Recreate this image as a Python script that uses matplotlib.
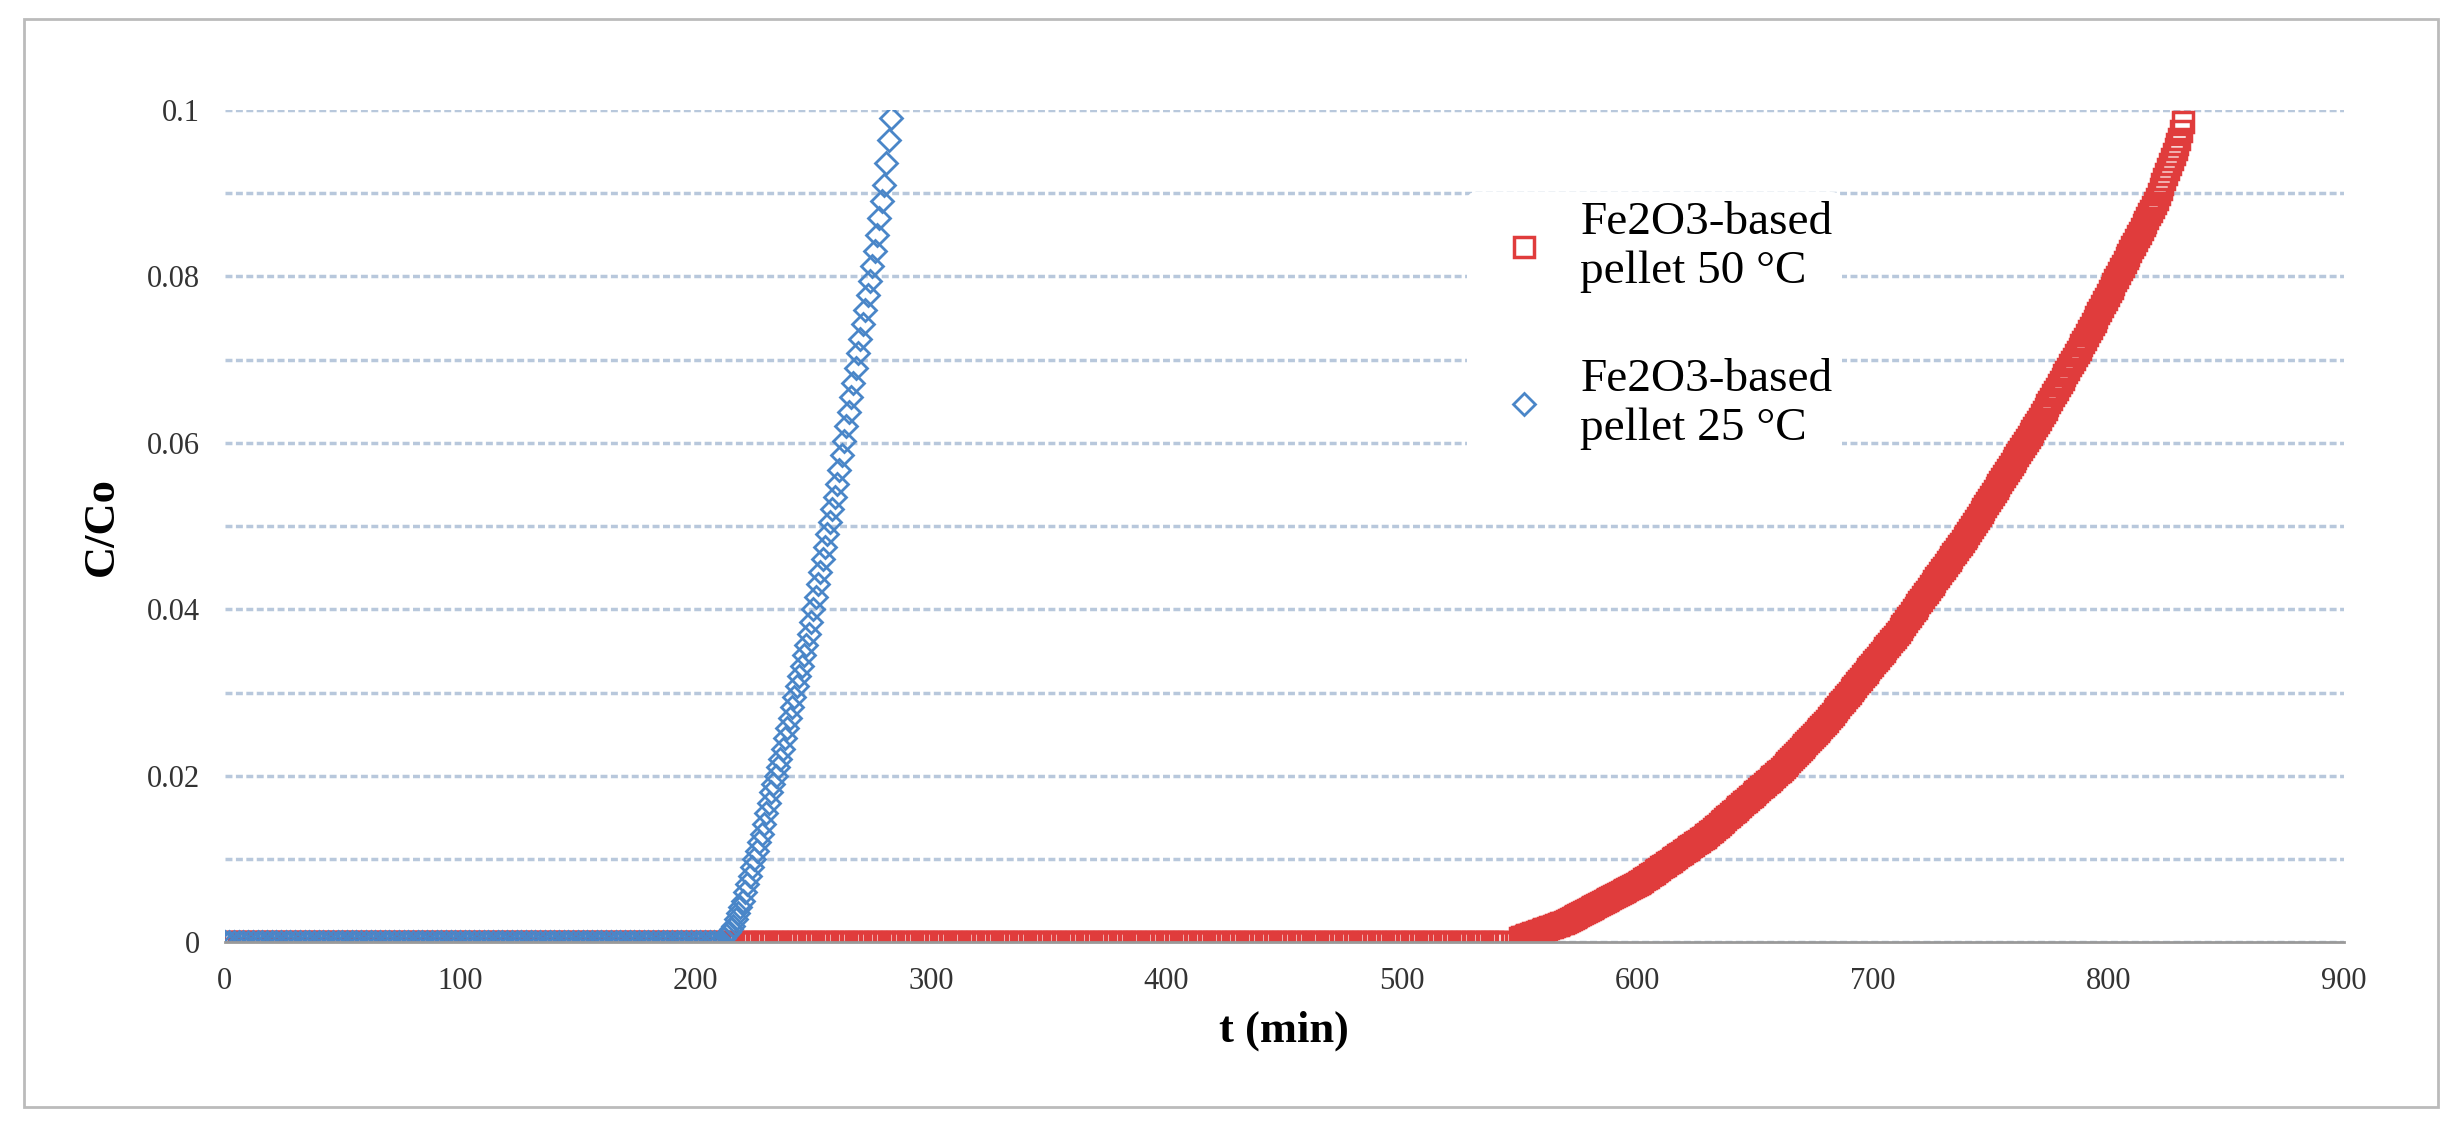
import matplotlib
matplotlib.use("Agg")
import matplotlib.pyplot as plt
import numpy as np

# Fe2O3 pellet 25 °C (blue)
t25_flat = list(range(0, 211, 2))
c25_flat = [0.0] * len(t25_flat)
t25_rise = [212, 216, 220, 224, 228, 232, 236, 240, 244, 248, 252, 256, 260, 264, 268, 272, 276, 280, 283]
c25_rise = [0.0005, 0.002, 0.005, 0.009, 0.013, 0.018, 0.022, 0.027, 0.032, 0.037, 0.043, 0.049, 0.055, 0.062, 0.069, 0.076, 0.083, 0.091, 0.099]

# Fe2O3 pellet 50 °C (red)
t50_flat = list(range(0, 546, 2))
c50_flat = [0.0] * len(t50_flat)
t50_rise = [550, 560, 570, 580, 590, 600, 610, 620, 630, 640, 650, 660, 670, 680, 690, 700, 710, 720,
            730, 740, 750, 760, 770, 780, 790, 800, 810, 820, 830, 832]
c50_rise = [0.0005, 0.0015, 0.0025, 0.004, 0.0055, 0.007, 0.009, 0.011, 0.013, 0.0155, 0.018, 0.0205, 0.0235,
            0.0265, 0.030, 0.0335, 0.037, 0.041, 0.045, 0.049, 0.0535, 0.058, 0.0625, 0.0675, 0.0725,
            0.078, 0.0835, 0.089, 0.0965, 0.099]

xticks = [0, 100, 200, 300, 400, 500, 600, 700, 800, 900]
yticks = [0, 0.02, 0.04, 0.06, 0.08, 0.1]
yticklabels = ["0", "0.02", "0.04", "0.06", "0.08", "0.1"]

plt.rcParams['font.family'] = ['Liberation Serif', 'DejaVu Serif']
fig = plt.figure(figsize=(24.62, 11.26), dpi=100)
W, H = 1568.0, 717.0
fig.patches.append(plt.Rectangle((15/W, 1-705/H), (1553-15)/W, (705-12)/H, transform=fig.transFigure,
                                 fill=False, edgecolor='#bbbbbb', lw=2))
ax = fig.add_axes([143/W, 1-600/H, (1493-143)/W, (600-70)/H])

def dense(t, c, step):
    tt = np.arange(t[0], t[-1] + 1e-9, step)
    return tt, np.interp(tt, t, c)

red = '#e03c3c'
blue = '#4a86c8'
tr, cr = dense(t50_rise, c50_rise, 0.8)
ax.plot(t50_flat + list(tr), c50_flat + list(cr), linestyle='none', marker='s', ms=14,
        mfc='none', mec=red, mew=2.5, label='Fe2O3-based\npellet 50 °C')
tb, cb = dense(t25_rise, c25_rise, 1.0)
ax.plot(t25_flat + list(tb), c25_flat + list(cb), linestyle='none', marker='D', ms=11,
        mfc='none', mec=blue, mew=2, label='Fe2O3-based\npellet 25 °C')

ax.set_xlim(0, 900)
ax.set_ylim(0, 0.1)
ax.set_xticks(xticks)
ax.set_yticks(yticks)
ax.set_yticklabels(yticklabels)
ax.set_yticks(np.arange(0, 0.1001, 0.01), minor=True)
ax.grid(True, axis='y', which='both', color='#b8c8dc', linestyle=(0, (2, 1)), lw=2.5)
ax.tick_params(axis='both', which='both', length=0, labelsize=22, colors='#333333', pad=18)
for s in ['top', 'right', 'left']:
    ax.spines[s].set_visible(False)
ax.spines['bottom'].set_color('#999999')
ax.spines['bottom'].set_linewidth(2)
ax.set_xlabel('t (min)', fontsize=32, fontweight='bold', labelpad=10)
ax.set_ylabel('C/Co', fontsize=32, fontweight='bold', labelpad=18)
leg = ax.legend(loc='upper left', bbox_to_anchor=(0.575, 0.93), frameon=True, fontsize=34,
                labelspacing=1.4, handletextpad=0.2, markerscale=1.0, borderpad=0.2)
leg.get_frame().set_facecolor('white'); leg.get_frame().set_edgecolor('none'); leg.get_frame().set_alpha(1)
fig.savefig('out.png', dpi=100)
